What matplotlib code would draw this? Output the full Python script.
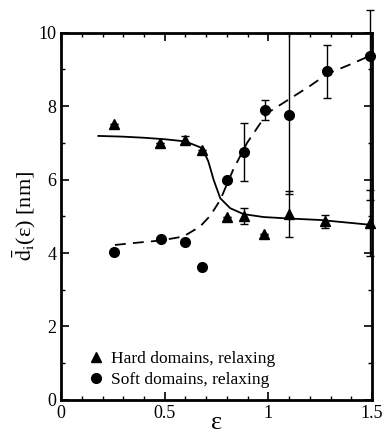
import numpy as np
from matplotlib import pyplot as plt
from matplotlib.ticker import MultipleLocator

plt.rcParams['font.family'] = ['Liberation Serif', 'DejaVu Serif']
plt.rcParams['mathtext.fontset'] = 'stix'

# Hard domains (triangles)
hard_x = [0.256, 0.478, 0.60, 0.68, 0.80, 0.88, 0.98, 1.10, 1.275, 1.49]
hard_y = [7.52, 7.00, 7.08, 6.81, 4.99, 5.01, 4.52, 5.06, 4.86, 4.81]
hard_err = [0.0, 0.0, 0.1, 0.0, 0.0, 0.22, 0.0, 0.62, 0.18, 0.90]

# Soft domains (circles)
soft_x = [0.256, 0.48, 0.60, 0.68, 0.80, 0.88, 0.985, 1.10, 1.283, 1.488]
soft_y = [4.02, 4.39, 4.30, 3.63, 5.98, 6.75, 7.90, 7.77, 8.95, 9.37]
soft_err_lo = [0.0, 0.0, 0.0, 0.0, 0.0, 0.78, 0.28, 2.17, 0.72, 3.92]
soft_err_hi = [0.0, 0.0, 0.0, 0.0, 0.0, 0.78, 0.28, 2.23, 0.72, 1.26]

# guide curves
fit_hard_x = [0.18, 0.30, 0.40, 0.50, 0.60, 0.68, 0.71, 0.736, 0.768, 0.816, 0.88, 0.977, 1.10, 1.25, 1.49]
fit_hard_y = [7.19, 7.17, 7.14, 7.10, 7.04, 6.86, 6.50, 5.99, 5.49, 5.22, 5.06, 4.98, 4.94, 4.90, 4.77]
fit_soft_x = [0.26, 0.40, 0.48, 0.59, 0.67, 0.72, 0.768, 0.83, 0.897, 0.994, 1.10, 1.20, 1.284, 1.40, 1.488]
fit_soft_y = [4.22, 4.30, 4.34, 4.45, 4.72, 5.02, 5.45, 6.27, 7.00, 7.81, 8.19, 8.55, 8.88, 9.15, 9.37]

fig = plt.figure(figsize=(3.84, 4.37), dpi=100)
ax = fig.add_axes([0.159, 0.085, 0.81, 0.84])

ax.plot(fit_hard_x, fit_hard_y, color='k', lw=1.3, clip_on=False)
ax.plot(fit_soft_x, fit_soft_y, color='k', lw=1.3, ls=(0, (6, 4)), clip_on=False)

ax.errorbar(hard_x, hard_y, yerr=hard_err, fmt='^', color='k', ms=6.5, capsize=3,
            elinewidth=1, clip_on=False, label='Hard domains, relaxing')
ax.errorbar(soft_x, soft_y, yerr=[soft_err_lo, soft_err_hi], fmt='o', color='k', ms=7,
            capsize=3, elinewidth=1, clip_on=False, label='Soft domains, relaxing')

ax.set_xlim(0, 1.5)
ax.set_ylim(0, 10)
ax.xaxis.set_major_locator(MultipleLocator(0.5))
ax.xaxis.set_minor_locator(MultipleLocator(0.1))
ax.yaxis.set_major_locator(MultipleLocator(2))
ax.yaxis.set_minor_locator(MultipleLocator(1))
ax.xaxis.set_major_formatter(plt.FuncFormatter(lambda v, p: '%g' % v))
ax.tick_params(which='both', direction='in', top=True, right=True, labelsize=13)
ax.tick_params(which='major', length=6, width=1.2)
ax.tick_params(which='minor', length=3, width=1)
for s in ax.spines.values():
    s.set_linewidth(2)

ax.set_xlabel('ε', fontsize=19, labelpad=-7)
ax.set_ylabel(r'$\bar{\mathrm{d}}_{\mathrm{i}}$(ε) [nm]', fontsize=16, labelpad=0)

h, l = ax.get_legend_handles_labels()
h = [x[0] for x in h]
ax.legend(h, l, loc='lower left', frameon=False, fontsize=12.5, handlelength=0.8,
          handletextpad=0.5, borderaxespad=0.3, labelspacing=0.25, bbox_to_anchor=(0.05, 0.0))

plt.savefig('out.png', dpi=100)
